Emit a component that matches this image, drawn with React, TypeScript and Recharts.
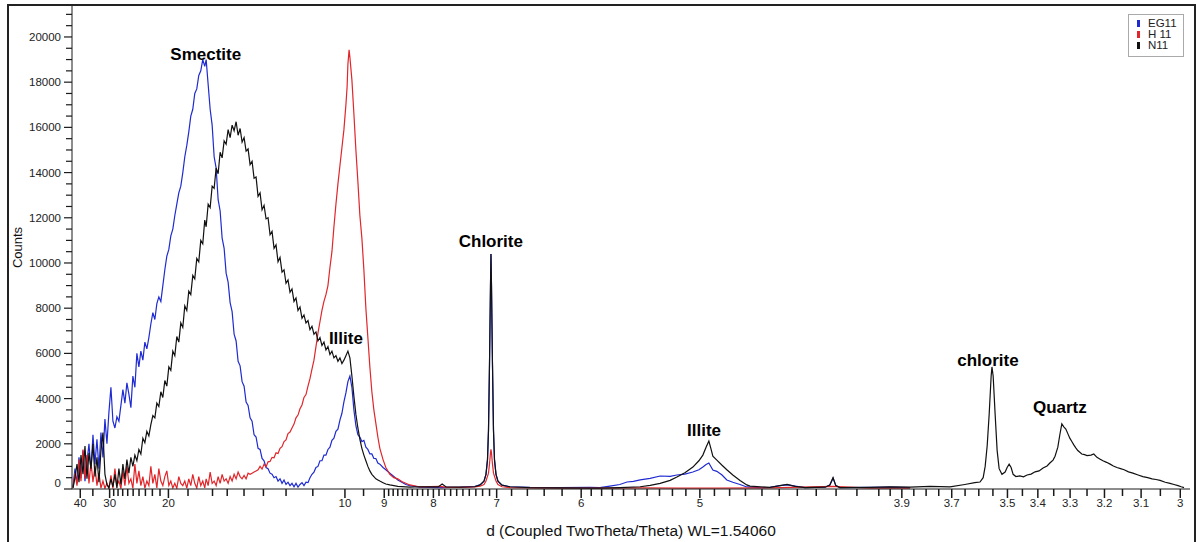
import { LineChart, Line, XAxis, YAxis, ReferenceDot, ReferenceLine, Label } from "recharts";

// Cu K-alpha wavelength used by the scan
const WAVELENGTH = 1.5406;

// x-axis tick labels (d-spacing, Angstrom)
const majorD = [40, 30, 20, 10, 9, 8, 7, 6, 5, 3.9, 3.7, 3.5, 3.4, 3.3, 3.2, 3.1, 3];
const minorD = [
  35, 29, 28, 27, 26, 25, 24, 23, 22, 21, 18, 16, 15, 14, 13, 12, 11, 9.5,
  8.9, 8.8, 8.7, 8.6, 8.5, 8.4, 8.3, 8.2, 8.1, 7.9, 7.8, 7.7, 7.6, 7.5, 7.4,
  7.3, 7.2, 7.1, 6.8, 6.6, 6.4, 6.2, 5.9, 5.8, 5.7, 5.6, 5.5, 5.4, 5.3, 5.2,
  5.1, 4.9, 4.8, 4.7, 4.6, 4.5, 4.4, 4.3, 4.2, 4.1, 4, 3.95, 3.85, 3.8, 3.75,
  3.65, 3.6, 3.55, 3.45, 3.35, 3.25, 3.15, 3.05,
];
const countTicks = Array.from({ length: 43 }, (_, i) => i * 500);

// [2theta, counts]
const eg11Points: [number, number][] = [
  [2.025, 100], [2.075, 900], [2.125, 250], [2.175, 1400], [2.225, 500], [2.275, 1700],
  [2.325, 350], [2.375, 1200], [2.425, 2000], [2.475, 800], [2.525, 2400], [2.575, 1100],
  [2.625, 2200], [2.675, 900], [2.725, 2500], [2.775, 1400], [2.825, 3100], [2.875, 2000],
  [2.925, 3400], [2.975, 4500], [3.025, 3000], [3.075, 2700], [3.125, 3200], [3.175, 3000],
  [3.225, 3700], [3.275, 4400], [3.325, 3800], [3.375, 4700], [3.425, 4200], [3.475, 3600],
  [3.525, 5000], [3.575, 4500], [3.625, 6000], [3.675, 5400], [3.725, 6100], [3.775, 5700],
  [3.825, 6500], [3.875, 6200], [3.925, 6700], [3.975, 7300], [4.025, 7800], [4.075, 7500],
  [4.125, 8200], [4.175, 8500], [4.225, 8300], [4.275, 9000], [4.325, 9700], [4.375, 10300],
  [4.425, 10600], [4.475, 11200], [4.525, 11500], [4.575, 12100], [4.625, 12600], [4.675, 13100],
  [4.725, 13400], [4.775, 14000], [4.825, 14700], [4.875, 15200], [4.925, 15800], [4.975, 16500],
  [5.025, 16800], [5.075, 17500], [5.125, 17700], [5.175, 18300], [5.225, 18500], [5.275, 19000],
  [5.325, 18700], [5.36, 19000], [5.41, 17900], [5.46, 16800], [5.51, 16100], [5.56, 14700],
  [5.61, 14200], [5.66, 12800], [5.71, 12300], [5.76, 11100], [5.81, 10650], [5.86, 9550],
  [5.91, 9150], [5.96, 8250], [6.01, 7850], [6.06, 6850], [6.11, 6550], [6.16, 5650],
  [6.21, 5450], [6.26, 4750], [6.31, 4550], [6.36, 3850], [6.41, 3700], [6.46, 3150],
  [6.51, 3000], [6.56, 2400], [6.61, 2300], [6.66, 1800], [6.71, 1750], [6.76, 1350],
  [6.81, 1250], [6.86, 950], [6.91, 900], [6.96, 700], [7.01, 650], [7.06, 500],
  [7.11, 550], [7.16, 350], [7.21, 450], [7.26, 250], [7.31, 400], [7.36, 200],
  [7.41, 300], [7.46, 150], [7.51, 250], [7.56, 100], [7.61, 250], [7.66, 80],
  [7.71, 200], [7.76, 280], [7.81, 150], [7.86, 300], [7.91, 280], [7.96, 500],
  [8.01, 650], [8.06, 750], [8.11, 950], [8.16, 1000], [8.21, 1250], [8.26, 1250],
  [8.31, 1500], [8.36, 1500], [8.41, 1750], [8.46, 1850], [8.51, 2150], [8.56, 2250],
  [8.61, 2550], [8.66, 2650], [8.71, 3050], [8.76, 3350], [8.81, 3850], [8.86, 4250],
  [8.91, 4750], [8.96, 5000], [9.01, 4500], [9.06, 3500], [9.11, 2800], [9.16, 2400],
  [9.21, 2300], [9.26, 2100], [9.31, 2150], [9.36, 1850], [9.41, 1750], [9.46, 1550],
  [9.51, 1550], [9.56, 1350], [9.61, 1350], [9.66, 1150], [9.71, 1100], [9.79, 950],
  [9.86, 850], [9.96, 700], [10.06, 550], [10.16, 400], [10.26, 300], [10.36, 200],
  [10.46, 150], [10.72, 80], [11.22, 60], [11.72, 80], [12.09, 120], [12.22, 180],
  [12.318, 350], [12.368, 650], [12.406, 1300], [12.431, 2600], [12.456, 5500], [12.481, 9000],
  [12.493, 10400], [12.506, 9000], [12.531, 5500], [12.556, 2600], [12.581, 1300], [12.619, 650],
  [12.668, 350], [12.77, 170], [12.97, 100], [13.47, 70], [14.22, 60], [14.97, 70],
  [15.22, 60], [15.47, 130], [15.72, 200], [15.9, 310], [16.06, 340], [16.23, 400],
  [16.48, 470], [16.73, 575], [16.98, 560], [17.15, 620], [17.35, 660], [17.55, 750],
  [17.7, 850], [17.8, 970], [17.88, 1080], [17.95, 1150], [18.05, 840], [18.15, 780],
  [18.28, 620], [18.4, 400], [18.55, 300], [18.73, 200], [18.9, 90], [19.2, 60],
  [19.48, 70], [19.73, 150], [19.91, 180], [20.11, 130], [20.36, 60], [20.86, 80],
  [20.98, 180], [21.06, 480], [21.13, 150], [21.23, 60], [21.98, 70], [22.49, 80],
  [22.99, 60],
];

const h11Points: [number, number][] = [
  [2.025, 50], [2.075, 700], [2.125, 150], [2.175, 1300], [2.225, 350], [2.275, 1750],
  [2.325, 450], [2.375, 1500], [2.425, 250], [2.475, 1200], [2.525, 300], [2.575, 1000],
  [2.625, 150], [2.675, 700], [2.725, 40], [2.775, 350], [2.825, 30], [2.875, 250],
  [2.925, 20], [2.975, 600], [3.025, 30], [3.075, 900], [3.125, 150], [3.175, 350],
  [3.225, 20], [3.275, 800], [3.325, 150], [3.375, 1000], [3.425, 250], [3.475, 450],
  [3.525, 30], [3.575, 1100], [3.625, 250], [3.675, 800], [3.725, 150], [3.775, 550],
  [3.825, 40], [3.875, 350], [3.925, 150], [3.975, 1000], [4.025, 250], [4.075, 650],
  [4.125, 50], [4.175, 900], [4.225, 350], [4.275, 150], [4.325, 550], [4.375, 800],
  [4.425, 150], [4.475, 350], [4.525, 40], [4.575, 250], [4.625, 30], [4.675, 550],
  [4.725, 250], [4.775, 150], [4.825, 350], [4.875, 40], [4.925, 450], [4.975, 150],
  [5.025, 650], [5.075, 250], [5.125, 40], [5.175, 550], [5.225, 150], [5.275, 350],
  [5.325, 50], [5.36, 450], [5.41, 150], [5.46, 750], [5.51, 250], [5.56, 350],
  [5.61, 150], [5.66, 550], [5.71, 250], [5.76, 650], [5.81, 350], [5.86, 450],
  [5.91, 250], [5.96, 550], [6.01, 350], [6.06, 650], [6.11, 450], [6.16, 750],
  [6.21, 550], [6.26, 450], [6.31, 600], [6.36, 450], [6.41, 700], [6.46, 650],
  [6.51, 700], [6.56, 750], [6.61, 800], [6.66, 850], [6.71, 1000], [6.76, 880],
  [6.81, 1100], [6.86, 980], [6.91, 1200], [6.96, 1220], [7.01, 1400], [7.06, 1380],
  [7.11, 1600], [7.16, 1570], [7.21, 1800], [7.26, 1870], [7.31, 2100], [7.36, 2170],
  [7.41, 2450], [7.46, 2520], [7.51, 2700], [7.56, 2870], [7.61, 3150], [7.66, 3270],
  [7.71, 3550], [7.76, 3720], [7.81, 4050], [7.86, 4180], [7.91, 4550], [7.96, 4880],
  [8.01, 5300], [8.06, 5700], [8.11, 6300], [8.16, 6900], [8.21, 7400], [8.26, 7900],
  [8.31, 8300], [8.36, 8600], [8.41, 9000], [8.46, 9800], [8.51, 10500], [8.56, 11600],
  [8.61, 12600], [8.66, 13500], [8.71, 14300], [8.76, 15100], [8.81, 15900], [8.86, 17000],
  [8.89, 17800], [8.91, 18800], [8.94, 19430], [8.96, 19100], [9.01, 18100], [9.06, 16600],
  [9.11, 15000], [9.16, 13600], [9.21, 12100], [9.26, 11100], [9.31, 9700], [9.36, 8000],
  [9.41, 6700], [9.46, 5400], [9.51, 4300], [9.56, 3500], [9.61, 2900], [9.66, 2300],
  [9.71, 1800], [9.79, 1300], [9.86, 950], [9.96, 650], [10.06, 500], [10.16, 450],
  [10.26, 330], [10.46, 180], [10.72, 90], [11.22, 120], [11.34, 80], [11.72, 70],
  [12.09, 90], [12.22, 120], [12.318, 200], [12.368, 350], [12.431, 700], [12.456, 1100],
  [12.481, 1600], [12.493, 1750], [12.506, 1600], [12.531, 1100], [12.556, 700], [12.619, 350],
  [12.668, 200], [12.77, 100], [12.97, 60], [13.47, 50], [14.22, 40], [14.97, 40],
  [16.23, 50], [17.23, 40], [18.18, 40], [19.48, 50], [21.06, 120], [21.98, 40],
  [22.99, 40],
];

const n11Points: [number, number][] = [
  [2.025, 50], [2.075, 500], [2.125, 1100], [2.175, 300], [2.225, 1500], [2.275, 650],
  [2.325, 1900], [2.375, 450], [2.425, 1600], [2.475, 900], [2.525, 2000], [2.575, 550],
  [2.625, 1400], [2.675, 300], [2.725, 1700], [2.775, 2500], [2.825, 650], [2.875, 200],
  [2.925, 50], [2.975, 450], [3.025, 100], [3.075, 650], [3.125, 50], [3.175, 900],
  [3.225, 200], [3.275, 1100], [3.325, 450], [3.375, 1300], [3.425, 700], [3.475, 1400],
  [3.525, 1000], [3.575, 1500], [3.625, 1250], [3.675, 1750], [3.725, 1550], [3.775, 2250],
  [3.825, 2050], [3.875, 2550], [3.925, 2350], [3.975, 2850], [4.025, 3250], [4.075, 3150],
  [4.125, 3800], [4.175, 3650], [4.225, 4300], [4.275, 4050], [4.325, 4800], [4.375, 4550],
  [4.425, 5400], [4.475, 5250], [4.525, 6100], [4.575, 5900], [4.625, 6750], [4.675, 6500],
  [4.725, 7350], [4.775, 7150], [4.825, 8100], [4.875, 7900], [4.925, 8750], [4.975, 8600],
  [5.025, 9450], [5.075, 9300], [5.125, 10200], [5.175, 10050], [5.225, 11000], [5.275, 10850],
  [5.325, 11900], [5.36, 11600], [5.41, 12600], [5.46, 12450], [5.51, 13400], [5.56, 13300],
  [5.61, 14200], [5.66, 13950], [5.71, 14900], [5.76, 14650], [5.81, 15400], [5.86, 15250],
  [5.91, 15900], [5.96, 15550], [6.01, 16100], [6.06, 15850], [6.11, 16250], [6.16, 15650],
  [6.21, 15950], [6.26, 15350], [6.31, 15550], [6.36, 14950], [6.41, 15050], [6.46, 14350],
  [6.51, 14500], [6.56, 13750], [6.61, 13800], [6.66, 12950], [6.71, 13100], [6.76, 12350],
  [6.81, 12550], [6.86, 11950], [6.91, 12000], [6.96, 11250], [7.01, 11400], [7.06, 10650],
  [7.11, 10800], [7.16, 10050], [7.21, 10250], [7.26, 9600], [7.31, 9700], [7.36, 9100],
  [7.41, 9250], [7.46, 8700], [7.51, 8850], [7.56, 8300], [7.61, 8450], [7.66, 7900],
  [7.71, 8050], [7.76, 7550], [7.81, 7700], [7.86, 7350], [7.91, 7450], [7.96, 7050],
  [8.01, 7200], [8.06, 6850], [8.11, 6950], [8.16, 6550], [8.21, 6700], [8.26, 6350],
  [8.31, 6500], [8.36, 6150], [8.41, 6300], [8.46, 5950], [8.51, 6100], [8.56, 5800],
  [8.61, 5900], [8.66, 5650], [8.71, 5800], [8.76, 5550], [8.81, 5700], [8.86, 5900],
  [8.91, 6100], [8.96, 5800], [9.01, 5000], [9.06, 4100], [9.11, 3300], [9.16, 2700],
  [9.21, 2200], [9.26, 1800], [9.31, 1500], [9.36, 1250], [9.41, 1000], [9.46, 800],
  [9.51, 650], [9.56, 550], [9.61, 450], [9.66, 400], [9.71, 350], [9.79, 280],
  [9.86, 220], [9.96, 180], [10.16, 120], [10.46, 80], [10.72, 100], [11.17, 90],
  [11.27, 220], [11.37, 90], [11.72, 80], [12.09, 100], [12.22, 180], [12.318, 350],
  [12.368, 650], [12.406, 1300], [12.431, 2600], [12.456, 5500], [12.481, 9000], [12.493, 10400],
  [12.506, 9000], [12.531, 5500], [12.556, 2600], [12.581, 1300], [12.619, 650], [12.668, 350],
  [12.77, 170], [12.97, 100], [13.47, 60], [14.22, 50], [14.97, 40], [15.22, 40],
  [15.72, 60], [16.23, 100], [16.48, 160], [16.73, 250], [16.98, 380], [17.15, 530],
  [17.35, 720], [17.55, 970], [17.7, 1250], [17.8, 1500], [17.88, 1850], [17.95, 2120],
  [18.0, 1800], [18.05, 1450], [18.15, 1280], [18.28, 1050], [18.4, 850], [18.55, 620],
  [18.73, 380], [18.9, 180], [18.98, 130], [19.48, 70], [19.73, 150], [19.91, 200],
  [20.11, 120], [20.36, 60], [20.86, 80], [20.98, 180], [21.06, 500], [21.13, 150],
  [21.23, 60], [21.98, 70], [22.49, 90], [22.99, 80], [23.49, 120], [23.99, 90],
  [24.36, 200], [24.61, 280], [24.74, 310], [24.82, 500], [24.87, 1000], [24.92, 1900],
  [24.97, 3300], [25.02, 5000], [25.04, 5400], [25.07, 5000], [25.12, 3300], [25.17, 1700],
  [25.22, 900], [25.29, 650], [25.37, 750], [25.42, 950], [25.47, 1100], [25.52, 950],
  [25.57, 650], [25.64, 550], [25.74, 580], [25.83, 540], [25.92, 620], [26.02, 660],
  [26.12, 760], [26.22, 800], [26.32, 930], [26.42, 1020], [26.49, 1150], [26.57, 1280],
  [26.62, 1450], [26.69, 1850], [26.74, 2400], [26.79, 2880], [26.84, 2750], [26.89, 2650],
  [26.94, 2450], [26.99, 2250], [27.04, 2100], [27.09, 1950], [27.14, 1820], [27.19, 1700],
  [27.29, 1550], [27.36, 1520], [27.42, 1480], [27.52, 1500], [27.59, 1550], [27.67, 1400],
  [27.75, 1320], [27.82, 1250], [27.91, 1180], [28.0, 1100], [28.08, 1020], [28.17, 950],
  [28.26, 900], [28.35, 850], [28.46, 760], [28.57, 700], [28.7, 620], [28.82, 550],
  [28.94, 500], [29.05, 450], [29.15, 420], [29.25, 380], [29.38, 300], [29.5, 250],
  [29.6, 200], [29.7, 150], [29.78, 100], [29.85, 60],
];

const toRows = (pts: [number, number][]) => pts.map(([t, c]) => ({ twoTheta: t, counts: c }));
const eg11 = toRows(eg11Points);
const h11 = toRows(h11Points);
const n11 = toRows(n11Points);

const toTwoTheta = (d: number) => (2 * Math.asin(WAVELENGTH / (2 * d)) * 180) / Math.PI;
const majorTicks = majorD.map(toTwoTheta);
const minorTicks = minorD.map(toTwoTheta);
const labelOf = (t: number) => majorD.find((d) => Math.abs(toTwoTheta(d) - t) < 1e-6);

const FONT = "Arial, 'Liberation Sans', sans-serif";
const AXIS = "#1a1a1a";

function XTick({ x, y, payload }: any) {
  const d = labelOf(payload.value);
  return (
    <g>
      <line x1={x} x2={x} y1={y - 10} y2={y - 1} stroke={AXIS} strokeWidth={1.5} />
      <text x={x} y={y} dy="0.71em" textAnchor="middle" fontSize={11.5} fill="#222" fontFamily={FONT}>
        {d !== undefined ? String(d) : ""}
      </text>
    </g>
  );
}

// minor tick drawn just below the x axis line
function MinorTick(props: any) {
  const bottom = Math.max(props.y1, props.y2);
  return <rect x={props.x1 - 0.75} y={bottom} width={1.5} height={7} fill={AXIS} />;
}

function YTick({ x, y, payload }: any) {
  const v = payload.value as number;
  const major = v % 2000 === 0;
  return (
    <g>
      <line x1={x + (major ? 3 : 5)} x2={x + 11} y1={y} y2={y} stroke={AXIS} strokeWidth={1.2} />
      {major && (
        <text x={x} y={v === 0 ? y - 6 : y} dy="0.35em" textAnchor="end" fontSize={11.5} fill="#222" fontFamily={FONT}>
          {v}
        </text>
      )}
    </g>
  );
}

const phaseLabels = [
  { t: 5.35, c: 19230, text: "Smectite" },
  { t: 8.86, c: 6680, text: "Illite" },
  { t: 12.49, c: 10970, text: "Chlorite" },
  { t: 17.83, c: 2610, text: "Illite" },
  { t: 24.94, c: 5730, text: "chlorite" },
  { t: 26.74, c: 3630, text: "Quartz" },
];

const legendItems = [
  { name: "EG11", color: "#1f2bd1" },
  { name: "H 11", color: "#e0262a" },
  { name: "N11", color: "#111111" },
];

export default function App() {
  return (
    <div style={{ position: "absolute", left: 0, top: 0, width: 1197, height: 542, overflow: "hidden", background: "#fff" }}>
      <div
        style={{
          position: "absolute",
          left: 7,
          top: 4,
          width: 1189,
          height: 560,
          border: "2px solid #222",
          boxSizing: "border-box",
        }}
      />
      <div style={{ position: "absolute", left: 0, top: 0 }}>
        <LineChart width={1197} height={542} margin={{ top: 6, right: 7, bottom: 23, left: 12 }}>
          <XAxis
            type="number"
            dataKey="twoTheta"
            domain={[2, 30]}
            ticks={majorTicks}
            interval={0}
            allowDataOverflow
            tickSize={8}
            tickMargin={2}
            tickLine={false}
            height={30}
            stroke={AXIS}
            tick={<XTick />}
          >
            <Label
              content={({ viewBox }: any) => (
                <text
                  x={viewBox.x + viewBox.width / 2}
                  y={viewBox.y + viewBox.height + 11}
                  dominantBaseline="central"
                  textAnchor="middle"
                  fontSize={15.5}
                  fontFamily={FONT}
                  fill="#111"
                >
                  d (Coupled TwoTheta/Theta) WL=1.54060
                </text>
              )}
            />
          </XAxis>
          <YAxis
            type="number"
            domain={[0, 21370]}
            ticks={countTicks}
            interval={0}
            allowDataOverflow
            width={60}
            tickSize={8}
            tickMargin={3}
            tickLine={false}
            stroke={AXIS}
            tick={<YTick />}
          >
            <Label
              content={({ viewBox }: any) => (
                <text
                  transform={`translate(${viewBox.x + 5}, ${viewBox.y + viewBox.height / 2}) rotate(-90)`}
                  dominantBaseline="central"
                  textAnchor="middle"
                  fontSize={13}
                  fontFamily={FONT}
                  fill="#111"
                >
                  Counts
                </text>
              )}
            />
          </YAxis>
          {minorTicks.map((t) => (
            <ReferenceLine key={t} x={t} ifOverflow="visible" shape={<MinorTick />} />
          ))}
          <Line data={eg11} dataKey="counts" type="linear" stroke={legendItems[0].color} strokeWidth={1.2} dot={false} activeDot={false} isAnimationActive={false} />
          <Line data={h11} dataKey="counts" type="linear" stroke={legendItems[1].color} strokeWidth={1.2} dot={false} activeDot={false} isAnimationActive={false} />
          <Line data={n11} dataKey="counts" type="linear" stroke={legendItems[2].color} strokeWidth={1.2} dot={false} activeDot={false} isAnimationActive={false} />
          {phaseLabels.map((p, i) => (
            <ReferenceDot
              key={i}
              x={p.t}
              y={p.c}
              r={0}
              stroke="none"
              fill="none"
              label={{ value: p.text, position: "center", fontSize: 17, fontWeight: "bold", fill: "#000", fontFamily: FONT }}
            />
          ))}
        </LineChart>
      </div>
      <div
        style={{
          position: "absolute",
          left: 1128,
          top: 14,
          width: 56,
          height: 43,
          border: "1px solid #aaa",
          boxSizing: "border-box",
          padding: "3px 0 0 0",
          fontFamily: FONT,
          fontSize: 11.5,
          lineHeight: "11px",
          color: "#222",
          background: "#fff",
        }}
      >
        {legendItems.map((it) => (
          <div key={it.name} style={{ display: "flex", alignItems: "center", height: 11 }}>
            <span style={{ display: "inline-block", width: 3, height: 7, background: it.color, marginLeft: 8, marginRight: 8 }} />
            <span>{it.name}</span>
          </div>
        ))}
      </div>
    </div>
  );
}
